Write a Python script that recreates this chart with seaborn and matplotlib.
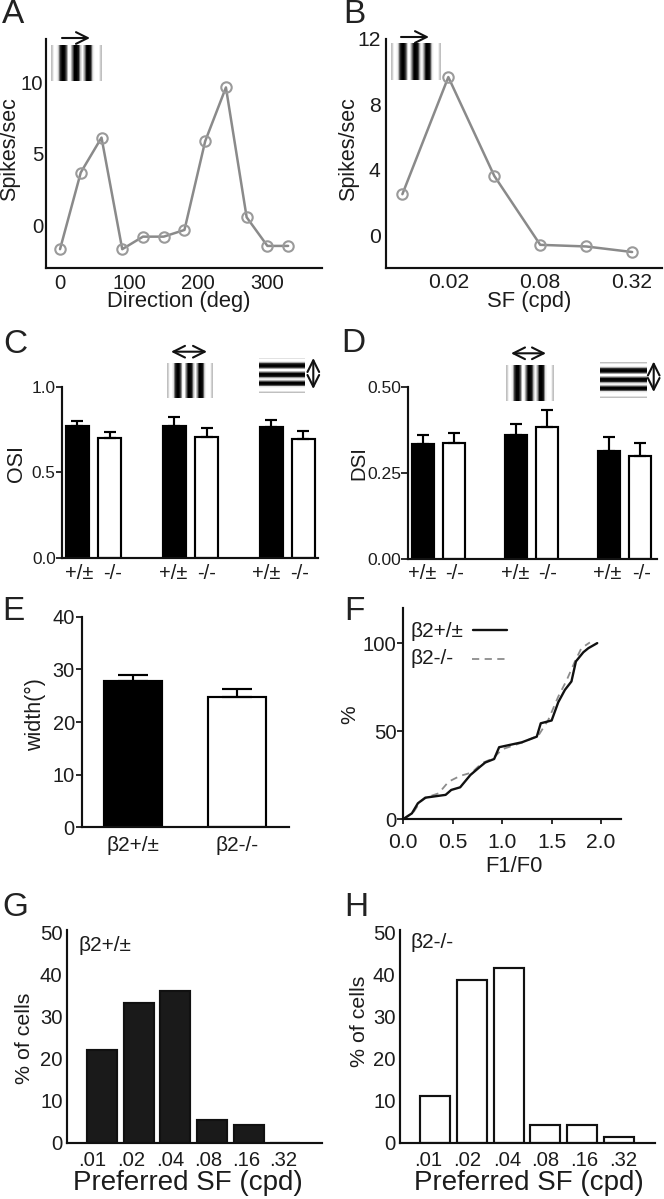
import matplotlib
matplotlib.use('Agg')
import matplotlib.pyplot as plt
import numpy as np
import seaborn as sns

# Panel A - direction tuning
DIRECTIONS = [0, 30, 60, 90, 120, 150, 180, 210, 240, 270, 300, 330]
DIRECTION_RATE = [-1.68, 3.7, 6.15, -1.68, -0.8, -0.8, -0.33, 5.9, 9.67, 0.56, -1.45, -1.45]

# Panel B - SF tuning
SF_STEPS = [0, 1, 2, 3, 4, 5]
SF_RATE = [2.5, 9.67, 3.62, -0.6, -0.7, -1.04]
SF_TICKS = [1, 3, 5]
SF_TICK_LABELS = ['0.02', '0.08', '0.32']

# Panels C and D - six bars in three groups
GROUP_POS = [0, 1, 3, 4, 6, 7]
GENOTYPE = ['+/±', '-/-', '+/±', '-/-', '+/±', '-/-']
OSI = [0.771, 0.70, 0.773, 0.709, 0.767, 0.693]
OSI_ERR = [0.029, 0.034, 0.048, 0.050, 0.039, 0.047]
DSI = [0.333, 0.335, 0.3595, 0.384, 0.313, 0.298]
DSI_ERR = [0.0265, 0.031, 0.0315, 0.047, 0.041, 0.039]

# Panel E
WIDTH_LABELS = ['β2+/±', 'β2-/-']
WIDTH = [27.8, 24.7]
WIDTH_ERR = [1.2, 1.6]

# Panel F - cumulative curves
F1F0_HET = [0, 0.09, 0.15, 0.225, 0.43, 0.487, 0.577, 0.68, 0.78, 0.83, 0.92, 0.97, 1.2, 1.35, 1.39,
            1.5, 1.567, 1.634, 1.70, 1.745, 1.82, 1.87, 1.96]
PCT_HET = [0, 3.4, 9.1, 12.3, 13.9, 16.7, 18.2, 25.2, 30, 32.3, 34.3, 41, 43.8, 47, 54.6,
           56.2, 66.6, 73.6, 78.4, 89.8, 95, 97.3, 100.2]
F1F0_KO = [0, 0.11, 0.175, 0.24, 0.36, 0.46, 0.577, 0.695, 0.795, 0.91, 1.0, 1.2, 1.366,
           1.466, 1.567, 1.65, 1.735, 1.80, 1.886]
PCT_KO = [0, 4.4, 10, 12.5, 14.8, 21.4, 24.7, 26.6, 31.9, 34.7, 39.8, 43.6, 47.6,
          56.5, 69.8, 78.9, 89.8, 97.3, 100.6]

# Panels G and H - preferred SF
PREF_SF = ['.01', '.02', '.04', '.08', '.16', '.32']
PREF_HET = [22.1, 33.2, 35.9, 5.5, 4.1, 0]
PREF_KO = [11.1, 38.7, 41.5, 4.1, 4.1, 1.4]

# Grating icon, one row of grey levels
GRATING = [.75, 1, 1, .9, .2, 0, 0, .3, 1, 1, .5, 0, 0, .1, .8, 1, .6, 0, 0, .1, .9, 1, 1, 1, .75]

W, H = 664, 1199
INK = '#1c1c1c'
LINE = 1.55

sns.set_theme(style='ticks')
plt.rcParams['font.family'] = ['Liberation Sans', 'DejaVu Sans']
plt.rcParams['text.color'] = INK
plt.rcParams['axes.labelcolor'] = INK
plt.rcParams['xtick.color'] = INK
plt.rcParams['ytick.color'] = INK

fig = plt.figure(figsize=(W / 100, H / 100), dpi=100, facecolor='white')


def fx(px):
    return px / W


def fy(py):
    return 1 - py / H


def make_axes(left, right, top, bottom):
    ax = fig.add_axes([fx(left), fy(bottom), (right - left) / W, (bottom - top) / H])
    ax.patch.set_alpha(0)
    sns.despine(ax=ax)
    ax.spines['left'].set_linewidth(LINE)
    ax.spines['bottom'].set_linewidth(LINE)
    ax.spines['left'].set_color('#111111')
    ax.spines['bottom'].set_color('#111111')
    return ax


def place_labels(ax, xlabel, xpos, ylabel, ypos, xsize=15.8, ysize=15.5):
    ax.set_xlabel(xlabel, fontsize=xsize, va='center')
    ax.set_ylabel(ylabel, fontsize=ysize, va='center')
    ax.xaxis.set_label_coords(fx(xpos[0]), fy(xpos[1]), transform=fig.transFigure)
    ax.yaxis.set_label_coords(fx(ypos[0]), fy(ypos[1]), transform=fig.transFigure)


def letter(s, x, y):
    fig.text(fx(x), fy(y), s, fontsize=24, ha='left', va='baseline', color='#222222')


def grating(left, right, top, bottom, vertical=True):
    ax = fig.add_axes([fx(left), fy(bottom), (right - left) / W, (bottom - top) / H])
    img = np.array([GRATING]) if vertical else np.array([GRATING]).T
    ax.imshow(img, cmap='gray', vmin=0, vmax=1, aspect='auto', interpolation='bilinear')
    ax.axis('off')


def arrow(x0, y0, x1, y1, style='->'):
    fig.add_artist(matplotlib.patches.FancyArrowPatch(
        (fx(x0), fy(y0)), (fx(x1), fy(y1)), transform=fig.transFigure, arrowstyle=style,
        mutation_scale=21, linewidth=1.5, color='#111111', shrinkA=0, shrinkB=0))


def tuning(ax, x, y):
    sns.lineplot(x=x, y=y, ax=ax, color='#8a8a8a', linewidth=1.8, marker='o', markersize=7.5,
                 markerfacecolor='none', markeredgecolor='#9a9a9a', markeredgewidth=1.5,
                 errorbar=None, sort=False)


def group_bars(ax, values, errs, width=0.71, positions=GROUP_POS, capsize=4.3):
    fills = ['black' if i % 2 == 0 else 'white' for i in range(len(values))]
    sns.barplot(x=positions, y=values, hue=positions, palette=fills, native_scale=True, dodge=False,
                width=width, edgecolor='black', linewidth=LINE, errorbar=None, legend=False, ax=ax)
    ax.errorbar(positions, values, yerr=[np.zeros(len(errs)), errs], fmt='none', ecolor='black',
                elinewidth=LINE, capsize=capsize, capthick=LINE)


def pref_bars(ax, values, color, ticks):
    sns.barplot(x=PREF_SF, y=values, color=color, width=0.82, edgecolor='#111111', linewidth=LINE,
                saturation=1, errorbar=None, ax=ax)
    ax.set_xlim(-0.97, 6.0)
    ax.set_ylim(0, 50.5)
    ax.set_yticks([0, 10, 20, 30, 40, 50])
    ax.set_xticks(ticks, PREF_SF)
    ax.tick_params(axis='x', length=0, pad=6, labelsize=14.6)
    ax.tick_params(axis='y', length=0, pad=3, labelsize=14.6)


# A
ax = make_axes(46, 322, 39, 268)
tuning(ax, DIRECTIONS, DIRECTION_RATE)
ax.set_xlim(-20.3, 379)
ax.set_ylim(-3.0, 13.07)
ax.set_xticks([0, 100, 200, 300])
ax.set_yticks([0, 5, 10])
ax.tick_params(axis='both', length=0, labelsize=14.6)
ax.tick_params(axis='x', pad=4)
ax.tick_params(axis='y', pad=2)
place_labels(ax, 'Direction (deg)', (179, 302), 'Spikes/sec', (10, 149))
grating(50.7, 100.7, 45, 81.3)
arrow(62, 38, 90, 38)

# B
ax = make_axes(386.3, 662, 39, 267.7)
tuning(ax, SF_STEPS, SF_RATE)
ax.set_xlim(-0.35, 5.65)
ax.set_ylim(-2, 12)
ax.set_xticks(SF_TICKS, SF_TICK_LABELS)
ax.set_yticks([0, 4, 8, 12])
ax.tick_params(axis='both', length=0, labelsize=15.2)
ax.tick_params(axis='x', pad=4)
ax.tick_params(axis='y', pad=4)
place_labels(ax, 'SF (cpd)', (529, 302), 'Spikes/sec', (349, 149))
grating(391.3, 440.7, 43.3, 80)
arrow(401, 37, 429, 37)

# C
ax = make_axes(62, 318, 386.7, 558.3)
group_bars(ax, OSI, OSI_ERR)
ax.set_xlim(-0.474, 7.45)
ax.set_ylim(0, 1)
ax.set_yticks([0, 0.5, 1.0], ['0.0', '0.5', '1.0'])
ax.set_xticks([0.06, 1.10, 2.97, 4.0, 5.84, 6.89], GENOTYPE)
ax.tick_params(axis='x', length=0, pad=4, labelsize=14.5)
ax.tick_params(axis='y', length=4, width=1.3, pad=0.5, labelsize=12.4)
place_labels(ax, '', (190, 590), 'OSI', (16.7, 463))
grating(166.7, 212.7, 362.7, 398.3)
arrow(171, 351.7, 207, 351.7, '<->')
grating(259, 305, 357.7, 393.3, vertical=False)
arrow(313.3, 358, 313.3, 389, '<->')

# D
ax = make_axes(408, 657, 386.7, 558.7)
group_bars(ax, DSI, DSI_ERR)
ax.set_xlim(-0.484, 7.55)
ax.set_ylim(0, 0.5)
ax.set_yticks([0, 0.25, 0.5], ['0.00', '0.25', '0.50'])
ax.set_xticks([-0.03, 1.02, 2.96, 4.03, 5.94, 7.06], GENOTYPE)
ax.tick_params(axis='x', length=0, pad=4, labelsize=14.5)
ax.tick_params(axis='y', length=5, width=1.3, pad=0, labelsize=12.6)
place_labels(ax, '', (530, 590), 'DSI', (358.7, 463), ysize=14.7)
grating(506.3, 553.7, 365, 400.7)
arrow(511, 353.3, 546, 353.3, '<->')
grating(599.7, 646.3, 362.3, 397.7, vertical=False)
arrow(653.7, 361.5, 653.7, 392, '<->')

# E
ax = make_axes(81.7, 289, 616.7, 827.3)
group_bars(ax, WIDTH, WIDTH_ERR, width=0.56, positions=[0, 1], capsize=10.8)
ax.set_xlim(-0.498, 1.50)
ax.set_ylim(0, 40)
ax.set_yticks([0, 10, 20, 30, 40])
ax.set_xticks([0, 1], WIDTH_LABELS)
ax.tick_params(axis='x', length=0, pad=6, labelsize=15)
ax.tick_params(axis='y', length=4.5, width=1.3, pad=0.5, labelsize=14.4)
place_labels(ax, '', (180, 870), 'width(°)', (35.7, 715))

# F
ax = make_axes(403, 621, 608.3, 819.3)
sns.lineplot(x=F1F0_KO, y=PCT_KO, ax=ax, color='#8c8c8c', linewidth=1.3, linestyle=(0, (4, 3)),
             errorbar=None, sort=False)
sns.lineplot(x=F1F0_HET, y=PCT_HET, ax=ax, color='#111111', linewidth=1.7, errorbar=None, sort=False)
ax.set_xlim(0, 2.2)
ax.set_ylim(0, 120)
ax.set_xticks([0, 0.5, 1.0, 1.5, 2.0], ['0.0', '0.5', '1.0', '1.5', '2.0'])
ax.set_yticks([0, 50, 100])
ax.tick_params(axis='x', length=3.6, width=1.3, pad=6, labelsize=15.2)
ax.tick_params(axis='y', length=4, width=1.3, pad=0.5, labelsize=14.7)
place_labels(ax, 'F1/F0', (513.7, 867), '%', (349.3, 715), xsize=15.8, ysize=15)
fig.text(fx(410), fy(631.7), 'β2+/±', fontsize=15, va='center')
fig.text(fx(410), fy(659), 'β2-/-', fontsize=15, va='center')
fig.add_artist(plt.Line2D([fx(473), fx(507)], [fy(629.7), fy(629.7)], color='#111111', linewidth=1.7))
fig.add_artist(plt.Line2D([fx(472), fx(507)], [fy(659), fy(659)], color='#8c8c8c', linewidth=1.3,
                          linestyle=(0, (4, 3))))

# G
ax = make_axes(66.7, 321.7, 930, 1142.7)
pref_bars(ax, PREF_HET, '#1a1a1a', [-0.27, 0.78, 1.87, 2.89, 3.94, 4.96])
place_labels(ax, 'Preferred SF (cpd)', (188.3, 1183), '% of cells', (25, 1038), xsize=20, ysize=15.4)
fig.text(fx(78), fy(945.7), 'β2+/±', fontsize=15, va='center')

# H
ax = make_axes(399.7, 655.3, 930, 1142.7)
pref_bars(ax, PREF_KO, 'white', [-0.18, 0.88, 1.97, 3.0, 4.06, 5.12])
place_labels(ax, 'Preferred SF (cpd)', (529.3, 1183), '% of cells', (359.3, 1021.7), xsize=20, ysize=15.4)
fig.text(fx(411), fy(943), 'β2-/-', fontsize=15, va='center')

letter('A', 2, 23)
letter('B', 343, 23)
letter('C', 3, 353)
letter('D', 341, 352)
letter('E', 2, 620)
letter('F', 344, 620)
letter('G', 2, 916)
letter('H', 344, 916)

fig.savefig('out.png', dpi=100, facecolor='white')
